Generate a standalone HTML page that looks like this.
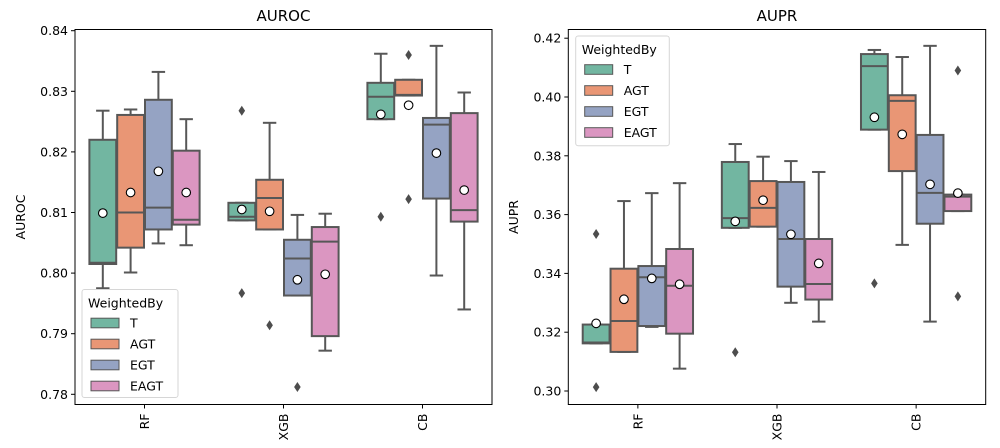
<!DOCTYPE html>
<html><head><meta charset="utf-8"><style>
body{margin:0;background:#fff;}
svg{display:block;font-family:"DejaVu Sans","Liberation Sans",sans-serif;}
</style></head><body>
<svg id="fig" width="1000" height="448" viewBox="0 0 1000 448" xmlns="http://www.w3.org/2000/svg"></svg>
<script>
const categories = ["RF","XGB","CB"];
const hues = ["T","AGT","EGT","EAGT"];
const colors = ["#72b6a1","#e99675","#95a3c3","#db96c1"];

// AUROC stats [category][hue]
const aurocWhiskerLo = [[0.7975,0.8001,0.8049,0.8046],[0.8087,0.8072,0.7963,0.7872],[0.8254,0.8293,0.7996,0.7940]];
const aurocQ1 = [[0.8015,0.8042,0.8072,0.8080],[0.8087,0.8072,0.7963,0.7896],[0.8254,0.8293,0.8123,0.8085]];
const aurocMedian = [[0.8017,0.8100,0.8108,0.8088],[0.8093,0.8124,0.8024,0.8052],[0.8291,0.8294,0.8245,0.8104]];
const aurocQ3 = [[0.8220,0.8261,0.8286,0.8202],[0.8116,0.8154,0.8055,0.8076],[0.8314,0.8319,0.8256,0.8264]];
const aurocWhiskerHi = [[0.8268,0.8270,0.8332,0.8254],[0.8116,0.8248,0.8096,0.8098],[0.8362,0.8319,0.8375,0.8298]];
const aurocMean = [[0.8099,0.8133,0.8168,0.8133],[0.8105,0.8102,0.7989,0.7998],[0.8262,0.8277,0.8198,0.8137]];
const aurocOutliers = [[[],[],[],[]],[[0.8268,0.7967],[0.7914],[0.7812],[]],[[0.8093],[0.8360,0.8122],[],[]]];
const aurocTicks = [0.78,0.79,0.80,0.81,0.82,0.83,0.84];

// AUPR stats [category][hue]
const auprWhiskerLo = [[0.3162,0.3133,0.3218,0.3076],[0.3555,0.3559,0.3300,0.3236],[0.3889,0.3497,0.3236,0.3612]];
const auprQ1 = [[0.3162,0.3133,0.3221,0.3195],[0.3555,0.3559,0.3355,0.3311],[0.3889,0.3748,0.3569,0.3612]];
const auprMedian = [[0.3165,0.3238,0.3387,0.3358],[0.3588,0.3623,0.3517,0.3364],[0.4105,0.3987,0.3674,0.3661]];
const auprQ3 = [[0.3226,0.3416,0.3425,0.3483],[0.3779,0.3714,0.3711,0.3517],[0.4146,0.4006,0.3871,0.3668]];
const auprWhiskerHi = [[0.3226,0.3646,0.3673,0.3707],[0.3840,0.3797,0.3782,0.3745],[0.4160,0.4136,0.4174,0.3668]];
const auprMean = [[0.3230,0.3312,0.3383,0.3363],[0.3577,0.3649,0.3533,0.3434],[0.3931,0.3873,0.3703,0.3673]];
const auprOutliers = [[[0.3534,0.3013],[],[],[]],[[0.3132],[],[],[]],[[0.3366],[],[],[0.4090,0.3322]]];
const auprTicks = [0.30,0.32,0.34,0.36,0.38,0.40,0.42];

const NS = "http://www.w3.org/2000/svg";
const svg = document.getElementById("fig");
function mk(tag, attrs, parent){
  const e = document.createElementNS(NS, tag);
  for (const k in attrs) e.setAttribute(k, attrs[k]);
  (parent||svg).appendChild(e);
  return e;
}
const LINE = "#575757";

function panel(cfg){
  const g = mk("g", {});
  
  
  const y = v => cfg.y0 + (v - cfg.v0) * cfg.k;
  const catStep = (cfg.x1 - cfg.x0) / 3;
  const x = i => cfg.x0 + catStep * (i + 0.5);
  const hueW = catStep * 0.8 / 4;

  // title
  const t = mk("text", {x:(cfg.x0+cfg.x1)/2, y:21, "font-size":15, "text-anchor":"middle", fill:"#000"}, g);
  t.textContent = cfg.title;
  
  
  // y-axis title
  const yl = mk("text", {transform:`translate(${cfg.ylabelX},${(cfg.top+cfg.bottom)/2}) rotate(-90)`, "font-size":12.5, "text-anchor":"middle", fill:"#000"}, g);
  yl.textContent = cfg.title;
  
  

  // y ticks
  cfg.ticks.forEach(v => {
    const yy = y(v);
    mk("line", {x1:cfg.x0-4, x2:cfg.x0, y1:yy, y2:yy, stroke:"#000", "stroke-width":1}, g);
    const tl = mk("text", {x:cfg.x0-7, y:yy+4.5, "font-size":12.5, "text-anchor":"end", fill:"#000"}, g);
    tl.textContent = v.toFixed(2);
    
    
  });
  // x ticks
  categories.forEach((c, i) => {
    const xx = x(i);
    mk("line", {x1:xx, x2:xx, y1:cfg.bottom, y2:cfg.bottom+4, stroke:"#000", "stroke-width":1}, g);
    const tl = mk("text", {transform:`translate(${xx+4.5},${cfg.bottom+9}) rotate(-90)`, "font-size":12.5, "text-anchor":"end", fill:"#000"}, g);
    tl.textContent = c;
    
    
  });

  // boxes
  categories.forEach((c, i) => {
    hues.forEach((h, j) => {
      const cx = x(i) + (j - 1.5) * hueW;
      const bw = hueW - 1;
      const bg = mk("g", {}, g);
      
      
      const lo = cfg.wlo[i][j], q1 = cfg.q1[i][j], md = cfg.med[i][j], q3 = cfg.q3[i][j], hi = cfg.whi[i][j];
      // whiskers
      mk("line", {x1:cx, x2:cx, y1:y(q3), y2:y(hi), stroke:LINE, "stroke-width":2}, bg);
      mk("line", {x1:cx, x2:cx, y1:y(q1), y2:y(lo), stroke:LINE, "stroke-width":2}, bg);
      mk("line", {x1:cx-bw/4, x2:cx+bw/4, y1:y(hi), y2:y(hi), stroke:LINE, "stroke-width":2}, bg);
      mk("line", {x1:cx-bw/4, x2:cx+bw/4, y1:y(lo), y2:y(lo), stroke:LINE, "stroke-width":2}, bg);
      mk("rect", {x:cx-bw/2, y:y(q3), width:bw, height:Math.max(0.5, y(q1)-y(q3)), fill:colors[j], stroke:LINE, "stroke-width":2}, bg);
      mk("line", {x1:cx-bw/2, x2:cx+bw/2, y1:y(md), y2:y(md), stroke:LINE, "stroke-width":2}, bg);
      cfg.out[i][j].forEach(o => {
        const oy = y(o);
        const d = mk("polygon", {points:`${cx},${oy-5} ${cx+3.3},${oy} ${cx},${oy+5} ${cx-3.3},${oy}`, fill:"#4d4d4d"}, bg);
        
        
      });
      const m = mk("circle", {cx:cx, cy:y(cfg.mean[i][j]), r:4.3, fill:"#fff", stroke:"#000", "stroke-width":1.1}, bg);
      
      
    });
  });

  // frame
  mk("rect", {x:cfg.x0, y:cfg.top, width:cfg.x1-cfg.x0, height:cfg.bottom-cfg.top, fill:"none", stroke:"#000", "stroke-width":1}, g);

  // legend
  const L = cfg.legend;
  const lg = mk("g", {}, g);
  
  
  mk("rect", {x:L.x, y:L.y, width:L.w, height:L.h, rx:2.5, fill:"#fff", "fill-opacity":0.8, stroke:"#d6d6d6", "stroke-width":1}, lg);
  const lt = mk("text", {x:L.x+6, y:L.y+18, "font-size":12.5, fill:"#000"}, lg);
  lt.textContent = "WeightedBy";
  
  
  hues.forEach((h, j) => {
    const cy = L.y + 33.5 + j * 21;
    const e = mk("g", {}, lg);
    
    
    mk("rect", {x:L.x+9, y:cy-4.8, width:28, height:9.6, fill:colors[j], stroke:LINE, "stroke-width":1}, e);
    const et = mk("text", {x:L.x+48, y:cy+4.5, "font-size":12.5, fill:"#000"}, e);
    et.textContent = h;
  });
}

panel({id:"auroc", title:"AUROC", x0:75, x1:492, top:29.5, bottom:404.5, y0:394.3, v0:0.78, k:-6060, ylabelX:25,
  ticks:aurocTicks, wlo:aurocWhiskerLo, q1:aurocQ1, med:aurocMedian, q3:aurocQ3, whi:aurocWhiskerHi, mean:aurocMean, out:aurocOutliers,
  legend:{x:82, y:289.5, w:96, h:108}});
panel({id:"aupr", title:"AUPR", x0:568.3, x1:985.7, top:29.5, bottom:404.5, y0:391, v0:0.30, k:-2940, ylabelX:518,
  ticks:auprTicks, wlo:auprWhiskerLo, q1:auprQ1, med:auprMedian, q3:auprQ3, whi:auprWhiskerHi, mean:auprMean, out:auprOutliers,
  legend:{x:575.7, y:36, w:93.6, h:109.7}});
</script>
</body></html>
